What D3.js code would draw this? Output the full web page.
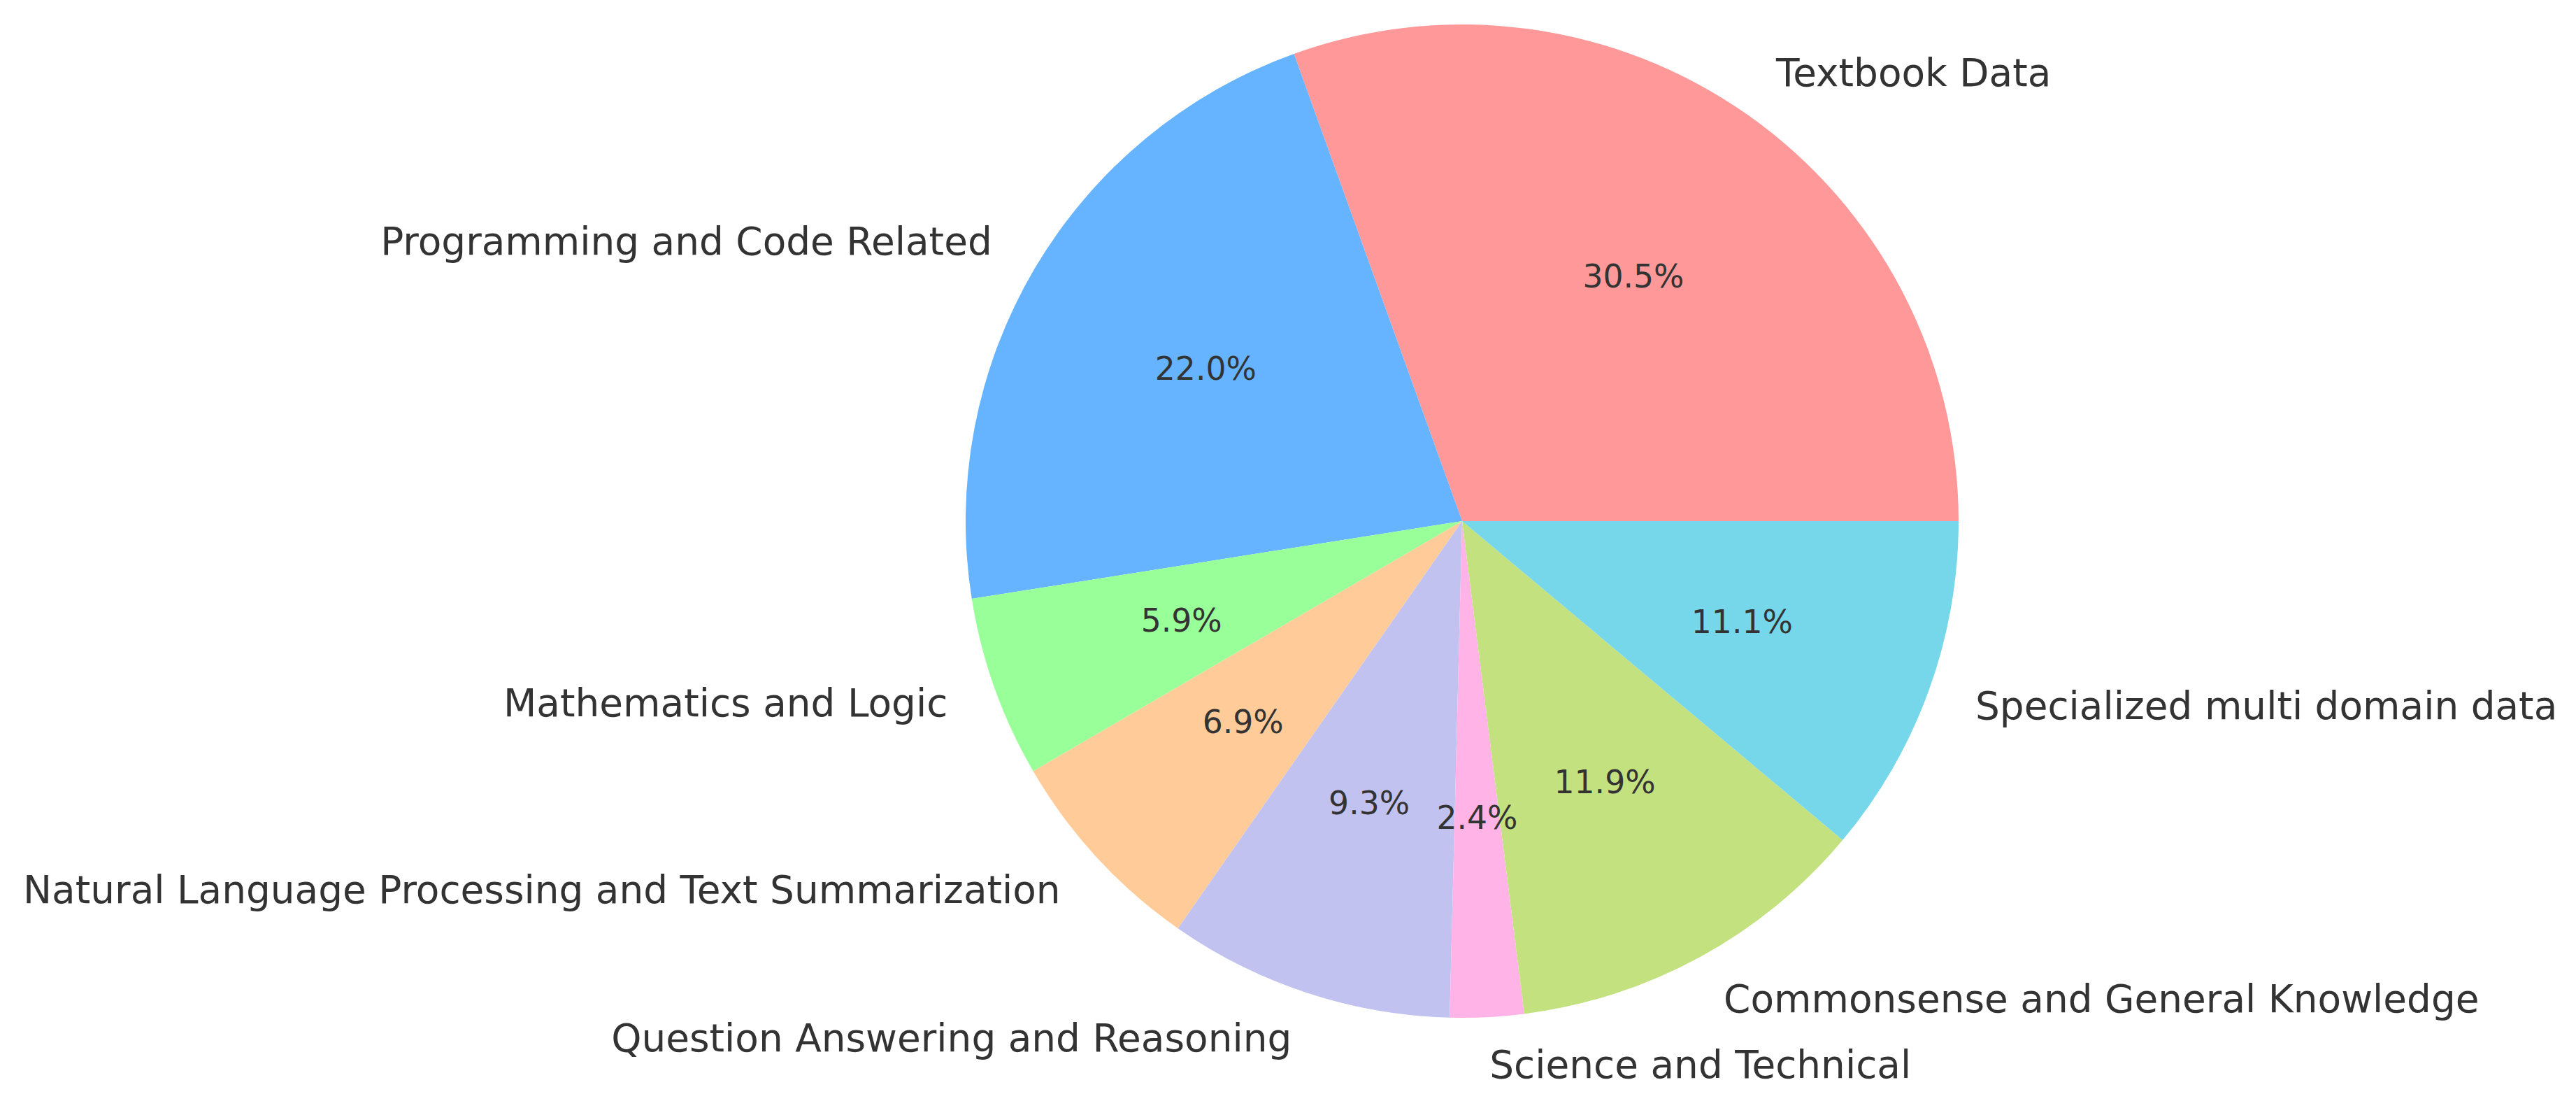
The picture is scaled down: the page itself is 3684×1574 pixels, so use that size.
<html>
<head>
<script src="https://d3js.org/d3.v7.min.js"></script>
<style>
  body { margin: 0; background: #fff; }
  text { font-family: "DejaVu Sans", sans-serif; fill: #333333; }
</style>
</head>
<body>
<script>
  // data
  let categories = [
    "Textbook Data",
    "Programming and Code Related",
    "Mathematics and Logic",
    "Natural Language Processing and Text Summarization",
    "Question Answering and Reasoning",
    "Science and Technical",
    "Commonsense and General Knowledge",
    "Specialized multi domain data"
  ];
  let shares = [30.5, 22.0, 5.9, 6.9, 9.3, 2.4, 11.9, 11.1];
  let colors = ["#ff9999", "#66b3ff", "#99ff99", "#ffcc99", "#c2c2f0", "#ffb3e6", "#c4e17f", "#76d7ea"];

  let width = 3684, height = 1574;
  let cx = 2091, cy = 745, radius = 710;

  let data = categories.map((c, i) => ({name: c, value: shares[i], color: colors[i]}));

  let svg = d3.select("body").append("svg")
      .attr("width", width)
      .attr("height", height);

  let g = svg.append("g").attr("transform", `translate(${cx},${cy})`);

  // matplotlib style: start at 3 o'clock, go counterclockwise
  let pie = d3.pie()
      .sort(null)
      .value(d => d.value)
      .startAngle(Math.PI / 2)
      .endAngle(Math.PI / 2 - 2 * Math.PI);

  let arcs = pie(data);

  let arc = d3.arc().innerRadius(0).outerRadius(radius);
  let pctArc = d3.arc().innerRadius(radius * 0.6).outerRadius(radius * 0.6);
  let labelArc = d3.arc().innerRadius(radius * 1.1).outerRadius(radius * 1.1);

  g.selectAll("path.slice")
    .data(arcs)
    .join("path")
    .attr("class", "slice")
    .attr("d", arc)
    .attr("fill", d => d.data.color);

  g.selectAll("text.pct")
    .data(arcs)
    .join("text")
    .attr("class", "pct")
    .attr("x", d => pctArc.centroid(d)[0])
    .attr("y", d => pctArc.centroid(d)[1])
    .attr("dy", "0.32em")
    .attr("text-anchor", "middle")
    .style("font-size", "45.7px")
    .text(d => d.data.value.toFixed(1) + "%");

  g.selectAll("text.label")
    .data(arcs)
    .join("text")
    .attr("class", "label")
    .attr("x", d => labelArc.centroid(d)[0])
    .attr("y", d => labelArc.centroid(d)[1])
    .attr("dy", "0.3em")
    .attr("text-anchor", d => labelArc.centroid(d)[0] >= 0 ? "start" : "end")
    .style("font-size", "54.9px")
    .text(d => d.data.name);
</script>
</body>
</html>
